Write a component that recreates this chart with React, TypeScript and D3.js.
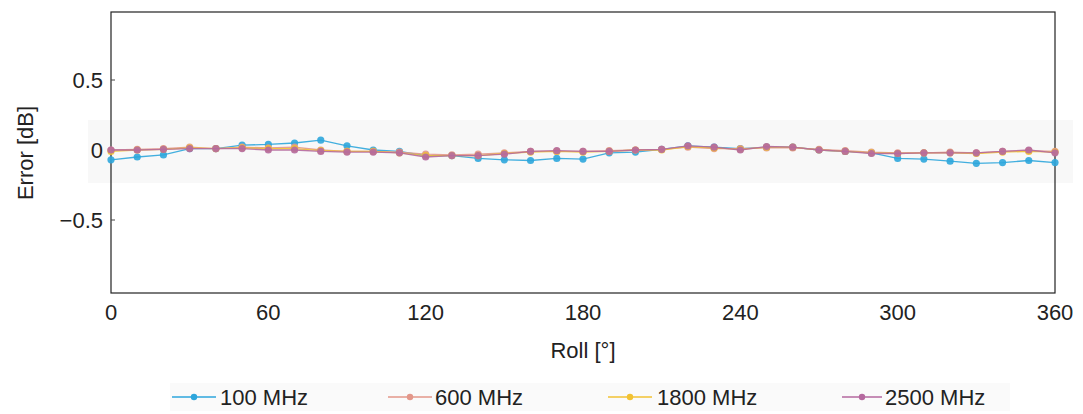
import React from "react";
import * as d3 from "d3";

const angles = d3.range(0, 361, 10);
const xTicks = [0, 60, 120, 180, 240, 300, 360];
const yTicks = [0.5, 0, -0.5];
const seriesNames = ["100 MHz", "600 MHz", "1800 MHz", "2500 MHz"];
const seriesColors = ["#2ea6dc", "#e3978a", "#f2c233", "#b5699f"];

const mhz100 = [-0.07, -0.05, -0.035, 0.01, 0.01, 0.035, 0.04, 0.05, 0.07, 0.03, 0.0, -0.01, -0.04, -0.04, -0.06, -0.07, -0.075, -0.06, -0.065, -0.02, -0.015, 0.005, 0.03, 0.02, 0.01, 0.02, 0.02, 0.0, -0.01, -0.02, -0.06, -0.065, -0.08, -0.095, -0.09, -0.075, -0.09];
const mhz600 = [0.0, 0.005, 0.01, 0.02, 0.01, 0.02, 0.015, 0.02, 0.0, -0.01, -0.01, -0.015, -0.03, -0.035, -0.03, -0.02, -0.01, -0.01, -0.01, -0.005, 0.0, 0.005, 0.02, 0.01, 0.01, 0.015, 0.015, 0.005, -0.005, -0.015, -0.02, -0.02, -0.015, -0.02, -0.01, -0.005, -0.01];
const mhz1800 = [-0.01, 0.0, 0.005, 0.015, 0.01, 0.015, 0.01, 0.01, -0.005, -0.01, -0.01, -0.02, -0.04, -0.04, -0.04, -0.025, -0.015, -0.01, -0.015, -0.01, 0.0, 0.0, 0.025, 0.015, 0.005, 0.02, 0.02, 0.0, -0.01, -0.02, -0.025, -0.02, -0.02, -0.025, -0.015, -0.01, -0.015];
const mhz2500 = [0.0, 0.0, 0.005, 0.01, 0.01, 0.01, 0.0, 0.0, -0.01, -0.015, -0.015, -0.02, -0.05, -0.04, -0.04, -0.03, -0.01, -0.005, -0.01, -0.01, 0.0, 0.005, 0.03, 0.02, 0.0, 0.025, 0.02, 0.0, -0.01, -0.025, -0.025, -0.02, -0.02, -0.02, -0.01, 0.0, -0.02];

const seriesValues = [mhz100, mhz600, mhz1800, mhz2500];

const W = 1083;
const H = 414;
const left = 111;
const right = 1055;
const top = 12;
const bottom = 293;

export default function App() {
  const x = d3.scaleLinear().domain([0, 360]).range([left, right]);
  const y = d3.scaleLinear().domain([-1, 1]).range([290, 10]);
  const line = d3
    .line<number>()
    .x((_, i) => x(angles[i]))
    .y((d) => y(d));
  const font = "'Liberation Sans', Arial, sans-serif";
  const legendLine = [[172, 216], [388, 432], [608, 652], [842, 882]];
  const legendText = [220, 435, 657, 885];

  return (
    <svg
      width={W}
      height={H}
      style={{ position: "absolute", left: 0, top: 0, background: "#fff" }}
      fontFamily={font}
    >
      <rect x={0} y={0} width={W} height={H} fill="#fff" />
      {/* faint background band */}
      <rect x={88} y={120} width={985} height={63} fill="#f8f8f8" />
      <rect x={170} y={383} width={840} height={28} fill="#fafafa" />
      {/* axes box */}
      <rect x={left} y={top} width={right - left} height={bottom - top} fill="none" stroke="#222" strokeWidth={1.2} />
      {/* ticks */}
      {xTicks.map((t) => (
        <text key={"x" + t} x={x(t)} y={320} textAnchor="middle" fontSize={22} fill="#222">
          {t}
        </text>
      ))}
      {yTicks.map((t) => (
        <g key={"y" + t}>
          <line x1={left} x2={left + 4} y1={y(t)} y2={y(t)} stroke="#444" strokeWidth={1} />
          <text x={103} y={y(t) + 8} textAnchor="end" fontSize={22} fill="#222">
            {t < 0 ? "\u2212" + Math.abs(t) : String(t)}
          </text>
        </g>
      ))}
      <text x={583} y={358} textAnchor="middle" fontSize={22} fill="#222">
        Roll [°]
      </text>
      <text
        transform={`translate(33,153) rotate(-90)`}
        textAnchor="middle"
        fontSize={22}
        fill="#222"
      >
        Error [dB]
      </text>
      {/* series */}
      {seriesValues.map((vals, si) => (
        <g key={"s" + si}>
          <path d={line(vals) || ""} fill="none" stroke={seriesColors[si]} strokeWidth={1.3} opacity={0.9} />
          {vals.map((v, i) => (
            <circle key={i} cx={x(angles[i])} cy={y(v)} r={3.6} fill={seriesColors[si]} opacity={0.9} />
          ))}
        </g>
      ))}
      {/* legend */}
      {seriesNames.map((name, i) => (
        <g key={"l" + i}>
          <line x1={legendLine[i][0]} x2={legendLine[i][1]} y1={397} y2={397} stroke={seriesColors[i]} strokeWidth={1.3} />
          <circle cx={(legendLine[i][0] + legendLine[i][1]) / 2} cy={397} r={3.2} fill={seriesColors[i]} />
          <text x={legendText[i]} y={405} fontSize={22} fill="#222">
            {name}
          </text>
        </g>
      ))}
    </svg>
  );
}
